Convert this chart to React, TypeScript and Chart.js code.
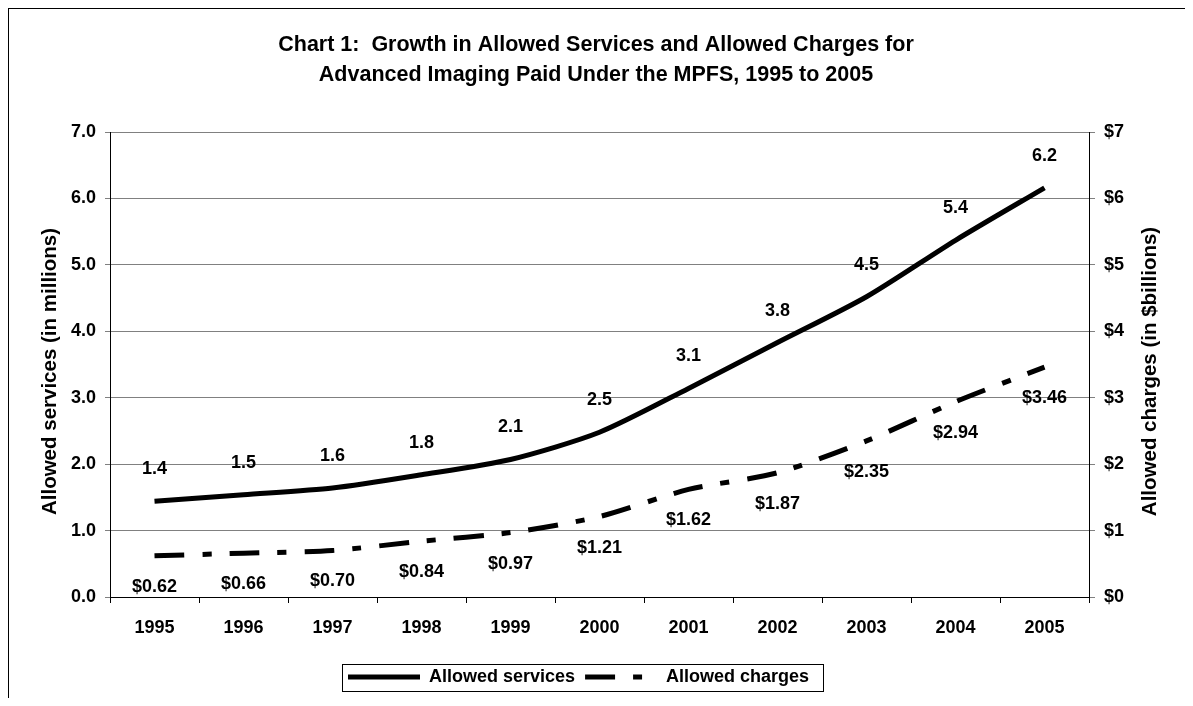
import React, { useEffect, useRef } from 'react';
import { Chart, registerables } from 'chart.js';

Chart.register(...registerables);

const years = ['1995', '1996', '1997', '1998', '1999', '2000', '2001', '2002', '2003', '2004', '2005'];
const servicesMillions = [1.44, 1.54, 1.64, 1.84, 2.07, 2.48, 3.14, 3.83, 4.52, 5.37, 6.16];
const chargesBillions = [0.62, 0.66, 0.7, 0.84, 0.97, 1.21, 1.62, 1.87, 2.35, 2.94, 3.46];
const seriesNames = ['Allowed services', 'Allowed charges'];
const titleLines = [
  'Chart 1:  Growth in Allowed Services and Allowed Charges for',
  'Advanced Imaging Paid Under the MPFS, 1995 to 2005',
];
const leftAxisTitle = 'Allowed services (in millions)';
const rightAxisTitle = 'Allowed charges (in $billions)';
const axisMin = 0;
const axisMax = 7;

const FAMILY = '"Liberation Sans", Arial, Helvetica, sans-serif';
const boldFont = { family: FAMILY, size: 18, weight: 'bold' as const };

const valueLabelsPlugin = {
  id: 'valueLabels',
  afterDatasetsDraw(chart: any) {
    const ctx = chart.ctx;
    ctx.save();
    ctx.font = `bold 18px ${FAMILY}`;
    ctx.fillStyle = '#000';
    ctx.textAlign = 'center';
    ctx.textBaseline = 'middle';
    chart.data.datasets.forEach((ds: any, i: number) => {
      const meta = chart.getDatasetMeta(i);
      meta.data.forEach((pt: any, j: number) => {
        const v = ds.data[j] as number;
        const text = i === 0 ? v.toFixed(1) : '$' + v.toFixed(2);
        const dy = i === 0 ? -32 : 31;
        ctx.fillText(text, pt.x, pt.y + dy);
      });
    });
    ctx.restore();
  },
};

const LEGEND_START_X = 339;
const LEGEND_CENTER_Y = 668;

const legendPlacePlugin = {
  id: 'legendPlace',
  afterLayout(chart: any) {
    const lg = chart.legend;
    if (!lg || !lg.lineWidths) return;
    const pad = lg.options.labels.padding;
    const start = (lg.left + pad + lg.right - lg.lineWidths[0]) / 2;
    const dx = LEGEND_START_X - start;
    lg.left += dx;
    lg.right += dx;
    const itemH = 18;
    const desiredTop = LEGEND_CENTER_Y - itemH / 2 - pad;
    const dy = desiredTop - lg.top;
    lg.top += dy;
    lg.bottom += dy;
  },
  afterDraw(chart: any) {
    const lg = chart.legend;
    if (!lg || !lg.lineWidths) return;
    const pad = lg.options.labels.padding;
    const itemsEnd = LEGEND_START_X + lg.lineWidths[0] - pad;
    const ctx = chart.ctx;
    ctx.save();
    ctx.strokeStyle = '#000';
    ctx.lineWidth = 1;
    ctx.setLineDash([]);
    const l = LEGEND_START_X - 6;
    const r = itemsEnd + 14;
    ctx.strokeRect(Math.round(l) + 0.5, Math.round(LEGEND_CENTER_Y - 13.5) + 0.5, Math.round(r - l), 27);
    ctx.restore();
  },
};

const axisTitlesPlugin = {
  id: 'axisTitles',
  afterDraw(chart: any) {
    const ctx = chart.ctx;
    const ca = chart.chartArea;
    const cy = (ca.top + ca.bottom) / 2 + 7;
    ctx.save();
    ctx.font = `bold 20.5px ${FAMILY}`;
    ctx.fillStyle = '#000';
    ctx.textAlign = 'center';
    ctx.textBaseline = 'middle';
    [
      { text: leftAxisTitle, x: 41 },
      { text: rightAxisTitle, x: 1141 },
    ].forEach((t) => {
      ctx.save();
      ctx.translate(t.x, cy);
      ctx.rotate(-Math.PI / 2);
      ctx.fillText(t.text, 0, 0);
      ctx.restore();
    });
    ctx.restore();
  },
};

export default function App() {
  const ref = useRef<HTMLCanvasElement>(null);
  useEffect(() => {
    document.body.style.overflow = 'hidden';
    const chart = new Chart(ref.current as HTMLCanvasElement, {
      type: 'line',
      data: {
        labels: years,
        datasets: [
          {
            label: seriesNames[0],
            data: servicesMillions,
            yAxisID: 'y',
            borderColor: '#000',
            backgroundColor: '#000',
            borderWidth: 5,
            pointRadius: 0,
            tension: 0.25,
            fill: false,
          },
          {
            label: seriesNames[1],
            data: chargesBillions,
            yAxisID: 'y2',
            borderColor: '#000',
            backgroundColor: '#000',
            borderWidth: 5,
            borderDash: [30, 18, 9, 18],
            pointRadius: 0,
            tension: 0.25,
            fill: false,
          },
        ],
      },
      options: {
        responsive: true,
        maintainAspectRatio: false,
        animation: false,
        layout: { padding: { left: 0, right: 10, top: 0, bottom: 0 } },
        plugins: {
          title: {
            display: true,
            text: titleLines,
            color: '#000',
            font: { family: FAMILY, size: 21.5, weight: 'bold', lineHeight: 30 / 21.5 },
            padding: { top: 21, bottom: 42 },
          },
          legend: {
            display: true,
            position: 'bottom',
            labels: {
              usePointStyle: true,
              pointStyle: 'line',
              pointStyleWidth: 72,
              padding: 10,
              color: '#000',
              font: boldFont,
              generateLabels: (c: any) => {
                const items = (Chart as any).defaults.plugins.legend.labels.generateLabels(c);
                return items.map((it: any) => {
                  const ds: any = c.data.datasets[it.datasetIndex];
                  return {
                    ...it,
                    lineWidth: ds.borderWidth,
                    lineDash: ds.borderDash || [],
                    strokeStyle: ds.borderColor,
                    fillStyle: ds.borderColor,
                    pointStyle: 'line',
                    lineCap: 'butt',
                  };
                });
              },
            },
          },
          tooltip: { enabled: false },
        },
        scales: {
          x: {
            type: 'category',
            offset: true,
            grid: { offset: true, drawOnChartArea: false, drawTicks: true, tickLength: 6, color: '#000' },
            border: { color: '#000', width: 1 },
            ticks: { color: '#000', font: boldFont, padding: 14, maxRotation: 0, autoSkip: false },
            afterFit: (s: any) => {
              s.height = 71;
            },
          },
          y: {
            position: 'left',
            min: axisMin,
            max: axisMax,
            ticks: {
              stepSize: 1,
              color: '#000',
              font: boldFont,
              padding: 9,
              callback: (v: any) => Number(v).toFixed(1),
            },
            grid: { color: '#808080', tickLength: 5 },
            border: { color: '#000', width: 1 },
            afterFit: (s: any) => {
              s.width = 101;
            },
          },
          y2: {
            position: 'right',
            min: axisMin,
            max: axisMax,
            ticks: {
              stepSize: 1,
              color: '#000',
              font: boldFont,
              padding: 9,
              callback: (v: any) => '$' + Number(v),
            },
            grid: { drawOnChartArea: false, color: '#808080', tickLength: 6 },
            border: { color: '#000', width: 1 },
            afterFit: (s: any) => {
              s.width = 94;
            },
          },
        },
      } as any,
      plugins: [valueLabelsPlugin, legendPlacePlugin, axisTitlesPlugin],
    });
    return () => chart.destroy();
  }, []);

  return (
    <div
      style={{
        marginLeft: -1,
        marginTop: -1,
        marginBottom: -8,
        width: 1186,
        height: 699,
        borderLeft: '2px solid #000',
        borderTop: '2px solid #000',
        boxSizing: 'border-box',
        position: 'relative',
        background: '#fff',
      }}
    >
      <canvas ref={ref} />
    </div>
  );
}
